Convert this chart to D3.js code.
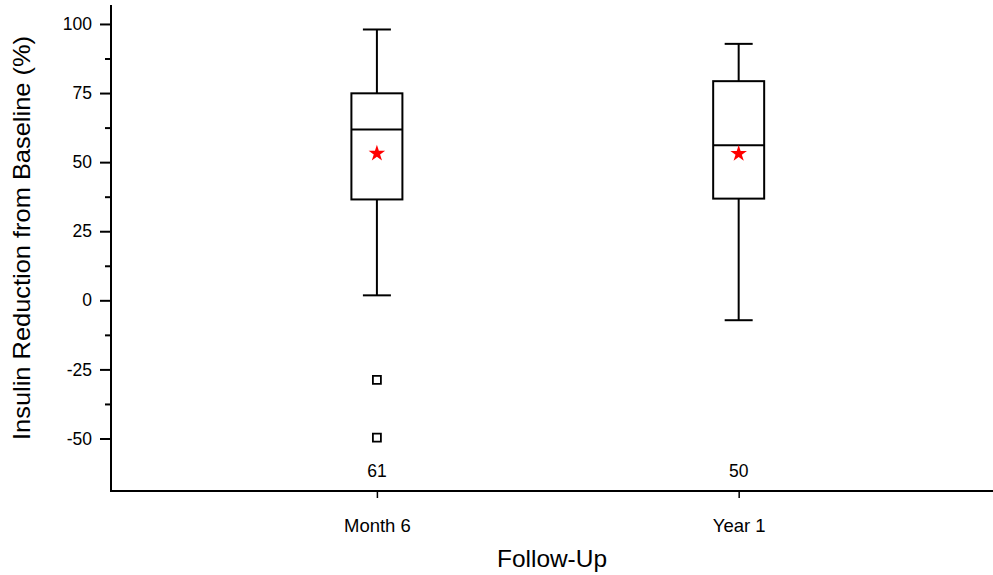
<!DOCTYPE html>
<html>
<head>
<meta charset="utf-8">
<script src="https://cdn.jsdelivr.net/npm/d3@7"></script>
<style>
  html, body { margin: 0; padding: 0; background: #fff; }
  svg { display: block; font-family: "Liberation Sans", Arial, sans-serif; }
</style>
</head>
<body>
<svg id="chart" width="993" height="575"></svg>
<script>
// ---- data ----
const categories = ["Month 6", "Year 1"];
const whiskerLow  = [1.8, -7.2];
const q1          = [36.5, 36.8];
const median      = [61.8, 56.1];
const q3          = [74.9, 79.3];
const whiskerHigh = [98.0, 92.8];
const means       = [53.5, 53.4];
const outliers    = [[-28.8, -49.7], []];
const counts      = [61, 50];
const yTicks      = [-50, -25, 0, 25, 50, 75, 100];
const yMinorTicks = [-37.5, -12.5, 12.5, 37.5, 62.5, 87.5];
const yTitle = "Insulin Reduction from Baseline (%)";
const xTitle = "Follow-Up";

(function () {
// ---- layout ----
const svg = d3.select("#chart");
const mLeft = 111, mRight = 993, mTop = 6, mBottom = 491;

const x = d3.scaleLinear().domain([0.265, 2.703]).range([mLeft, mRight]);
const y = d3.scaleLinear().domain([-69, 106.5]).range([mBottom, mTop]);

const boxW = 51, capW = 28;
const stroke = "#000";
const font = "Liberation Sans, Arial, sans-serif";

// Y axis
const yAxis = d3.axisLeft(y).tickValues(yTicks).tickSize(11).tickPadding(8).tickFormat((d) => String(d));
const gy = svg.append("g").attr("transform", `translate(${mLeft},0)`).call(yAxis);
gy.select(".domain").remove();
gy.selectAll(".tick line").attr("stroke", stroke).attr("stroke-width", 2);
gy.selectAll(".tick text").attr("font-size", 17.5).attr("fill", "#000").attr("font-family", font);
const gyMinor = svg.append("g").attr("transform", `translate(${mLeft},0)`)
  .call(d3.axisLeft(y).tickValues(yMinorTicks).tickSize(6).tickFormat(""));
gyMinor.select(".domain").remove();
gyMinor.selectAll(".tick line").attr("stroke", stroke).attr("stroke-width", 2);
svg.append("line").attr("x1", mLeft).attr("x2", mLeft).attr("y1", mTop - 1).attr("y2", mBottom + 1)
  .attr("stroke", stroke).attr("stroke-width", 2);

// X axis
const xAxis = d3.axisBottom(x).tickValues(categories.map((c, i) => i + 1))
  .tickFormat((d) => categories[d - 1]).tickSize(7).tickPadding(21);
const gx = svg.append("g").attr("transform", `translate(0,${mBottom})`).call(xAxis);
gx.select(".domain").remove();
gx.selectAll(".tick line").attr("stroke", stroke).attr("stroke-width", 1.5);
gx.selectAll(".tick text").attr("font-size", 18.5).attr("fill", "#000").attr("font-family", font);
svg.append("line").attr("x1", mLeft - 1).attr("x2", mRight).attr("y1", mBottom).attr("y2", mBottom)
  .attr("stroke", stroke).attr("stroke-width", 2);

// Boxes
const g = svg.append("g");
categories.forEach((c, i) => {
  const cx = x(i + 1);
  g.append("line").attr("x1", cx).attr("x2", cx).attr("y1", y(whiskerHigh[i])).attr("y2", y(q3[i]))
    .attr("stroke", stroke).attr("stroke-width", 2);
  g.append("line").attr("x1", cx).attr("x2", cx).attr("y1", y(q1[i])).attr("y2", y(whiskerLow[i]))
    .attr("stroke", stroke).attr("stroke-width", 2);
  g.append("line").attr("x1", cx - capW / 2).attr("x2", cx + capW / 2)
    .attr("y1", y(whiskerHigh[i])).attr("y2", y(whiskerHigh[i])).attr("stroke", stroke).attr("stroke-width", 2);
  g.append("line").attr("x1", cx - capW / 2).attr("x2", cx + capW / 2)
    .attr("y1", y(whiskerLow[i])).attr("y2", y(whiskerLow[i])).attr("stroke", stroke).attr("stroke-width", 2);
  g.append("rect").attr("x", cx - boxW / 2).attr("width", boxW)
    .attr("y", y(q3[i])).attr("height", y(q1[i]) - y(q3[i]))
    .attr("fill", "none").attr("stroke", stroke).attr("stroke-width", 2);
  g.append("line").attr("x1", cx - boxW / 2).attr("x2", cx + boxW / 2)
    .attr("y1", y(median[i])).attr("y2", y(median[i])).attr("stroke", stroke).attr("stroke-width", 2);
  g.append("path").attr("d", d3.symbol(d3.symbolStar, 85)())
    .attr("transform", `translate(${cx},${y(means[i]) + 1})`).attr("fill", "#ff0000");
  outliers[i].forEach((v) => {
    g.append("path").attr("d", d3.symbol(d3.symbolSquare, 64)())
      .attr("transform", `translate(${cx},${y(v)})`)
      .attr("fill", "#fff").attr("stroke", stroke).attr("stroke-width", 1.8);
  });
  g.append("text").attr("x", cx).attr("y", 477).attr("text-anchor", "middle")
    .attr("font-size", 17.5).attr("font-family", font).attr("fill", "#000").text(counts[i]);
});

// Titles
svg.append("text").attr("transform", `translate(30,238) rotate(-90)`)
  .attr("text-anchor", "middle").attr("font-size", 24).attr("font-family", font).attr("fill", "#000")
  .attr("textLength", 404).attr("lengthAdjust", "spacingAndGlyphs").text(yTitle);
svg.append("text").attr("x", 552).attr("y", 567).attr("text-anchor", "middle")
  .attr("font-size", 24).attr("font-family", font).attr("fill", "#000")
  .attr("textLength", 110).attr("lengthAdjust", "spacingAndGlyphs").text(xTitle);
})();
</script>
</body>
</html>
